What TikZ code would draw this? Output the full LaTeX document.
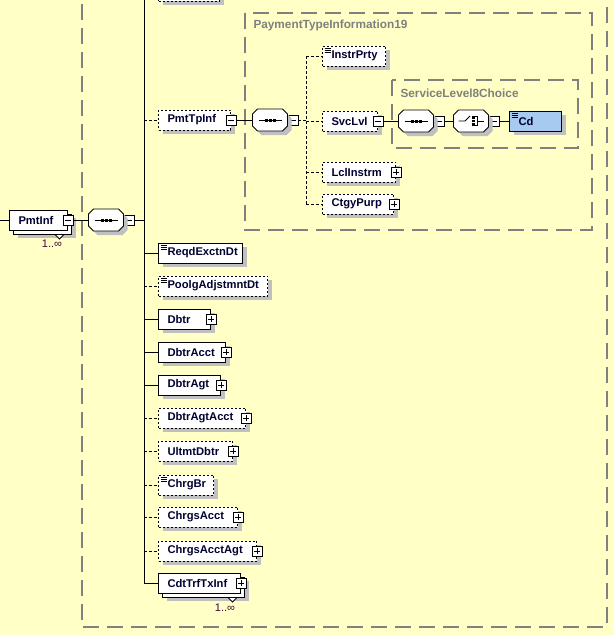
\documentclass[tikz,border=0pt]{standalone}
\usepackage{fontspec}
\setmainfont{Liberation Sans}
\usepackage{tikz}
\usetikzlibrary{positioning, shadows}
\definecolor{colorBack}{RGB}{255,255,198}
\definecolor{colorGroup}{RGB}{128,128,128}
\definecolor{colorShadow}{RGB}{192,192,192}
\definecolor{colorName}{RGB}{0,0,48}
\definecolor{colorCard}{RGB}{64,0,64}
\definecolor{colorSimple}{RGB}{166,202,240}
\newcommand{\elemfont}{\bfseries\fontsize{11.2}{13}\selectfont\hyphenpenalty=10000}
\newcommand{\grpfont}{\bfseries\fontsize{11.8}{13}\selectfont}
% octagon of a compositor, shifted by (#2,#3)
\newcommand{\octa}[3]{([shift={(#2+5pt,#3)}]#1.north west) -- ([shift={(#2-5pt,#3)}]#1.north east) -- ([shift={(#2,#3-5pt)}]#1.north east) -- ([shift={(#2,#3+5pt)}]#1.south east) -- ([shift={(#2-5pt,#3)}]#1.south east) -- ([shift={(#2+5pt,#3)}]#1.south west) -- ([shift={(#2,#3+5pt)}]#1.south west) -- ([shift={(#2,#3-5pt)}]#1.north west) -- cycle}
\tikzset{
  shad/.style={drop shadow={shadow xshift=4pt, shadow yshift=-4pt, draw=none, fill=colorShadow, opacity=1}},
  base/.style={draw, fill=white, line width=1pt, minimum height=20pt, inner xsep=9pt, inner ysep=0pt, anchor=west, align=left, font=\elemfont, text=colorName},
  elem/.style={base, shad},
  opt/.style={elem, dash pattern=on 2pt off 2pt},
  multi/.style={base, drop shadow={shadow xshift=8pt, shadow yshift=-8pt, draw=none, fill=colorShadow, opacity=1}, general shadow={shadow xshift=4pt, shadow yshift=-4pt, draw=black, fill=white, line width=1pt}},
  simple/.style={path picture={\foreach \k in {2.5,4.5,6.5} \draw[solid, line width=0.7pt] ([shift={(2pt,-\k pt)}]path picture bounding box.north west) -- ++(6pt,0pt);}},
  sgn/.style={draw, solid, fill=white, line width=0.8pt, minimum size=10pt, inner sep=0pt},
  minus/.style={sgn, path picture={\draw[line width=0.8pt] ([xshift=2pt]path picture bounding box.west) -- ([xshift=-2pt]path picture bounding box.east);}},
  plus/.style={sgn, path picture={\draw[line width=0.8pt] ([xshift=2pt]path picture bounding box.west) -- ([xshift=-2pt]path picture bounding box.east) ([yshift=2pt]path picture bounding box.south) -- ([yshift=-2pt]path picture bounding box.north);}},
  comp/.style={minimum width=34pt, minimum height=21pt, inner sep=0pt},
  optline/.style={dash pattern=on 3pt off 2pt},
  grpline/.style={colorGroup, line width=1.2pt, dash pattern=on 16pt off 8pt},
  grplabel/.style={anchor=west, inner sep=0pt, text=colorGroup, font=\grpfont},
  card/.style={inner sep=0pt, text=colorCard, font=\fontsize{11}{12}\selectfont},
}
\begin{document}
\begin{tikzpicture}[x=1pt, y=-1pt, line width=1pt]
\useasboundingbox (0,0) rectangle (614,635);
\clip (0,0) rectangle (614,635);
\fill[colorBack] (0,0) rectangle (614,635);
% groups
\draw[grpline] (82,-20) rectangle (607,627);
\draw[grpline] (245,13) rectangle (592,230);
\node[grplabel] (ptiLbl) at (253,25) {PaymentTypeInformation19};
\draw[grpline] (392,80) rectangle (578,148);
\node[grplabel] (svcLbl) at (400,93) {ServiceLevel8Choice};
% root element
\coordinate (root) at (0,220);
\node[multi, text width=40pt] (pmtinf) at (9,220) {PmtInf};
\node[minus] (pmtinfS) at (pmtinf.east) {};
\node[comp] (seqA) at (106,220) {};
\node[minus, anchor=west] (seqAS) at (seqA.east) {};
\coordinate (trunk) at (144,-20);
% PmtTpInf branch
\node[opt, text width=43pt] (ctrl) at (158,-9) {};
\node[opt, text width=54pt] (pmttp) at (158,120) {PmtTpInf};
\node[minus] (pmttpS) at (pmttp.east) {};
\node[comp] (seqB) at (270,120) {};
\node[minus, anchor=west] (seqBS) at (seqB.east) {};
\coordinate (fork) at (306,0);
\node[opt, simple, text width=45pt] (instr) at (322,56) {InstrPrty};
\node[opt, text width=37pt] (svclvl) at (322,121) {SvcLvl};
\node[minus] (svclvlS) at (svclvl.east) {};
\node[comp] (seqC) at (416,121) {};
\node[minus, anchor=west] (seqCS) at (seqC.east) {};
\node[comp] (choC) at (471,121) {};
\node[minus, anchor=west] (choCS) at (choC.east) {};
\node[elem, simple, fill=colorSimple, text width=34pt] (cd) at (509,121) {Cd};
\node[opt, text width=55pt] (lcl) at (322,172) {LclInstrm};
\node[plus] (lclS) at (lcl.east) {};
\node[opt, text width=53pt] (ctgy) at (322,204) {CtgyPurp};
\node[plus] (ctgyS) at (ctgy.east) {};
% other children
\node[elem, simple, text width=66pt] (reqd) at (158,253) {ReqdExctnDt};
\node[opt, simple, text width=91pt] (poolg) at (158,286) {PoolgAdjstmntDt};
\node[elem, text width=34pt] (dbtr) at (158,319) {Dbtr};
\node[plus] (dbtrS) at (dbtr.east) {};
\node[elem, text width=49pt] (dbtracct) at (158,352) {DbtrAcct};
\node[plus] (dbtracctS) at (dbtracct.east) {};
\node[elem, text width=44pt] (dbtragt) at (158,385) {DbtrAgt};
\node[plus] (dbtragtS) at (dbtragt.east) {};
\node[opt, text width=69pt] (dbtragtacct) at (158,418) {DbtrAgtAcct};
\node[plus] (dbtragtacctS) at (dbtragtacct.east) {};
\node[opt, text width=56pt] (ultmt) at (158,451) {UltmtDbtr};
\node[plus] (ultmtS) at (ultmt.east) {};
\node[opt, simple, text width=37pt] (chrgbr) at (158,485) {ChrgBr};
\node[opt, text width=61pt] (chrgsacct) at (158,517) {ChrgsAcct};
\node[plus] (chrgsacctS) at (chrgsacct.east) {};
\node[opt, text width=80pt] (chrgsagt) at (158,551) {ChrgsAcctAgt};
\node[plus] (chrgsagtS) at (chrgsagt.east) {};
\node[multi, text width=64pt] (cdt) at (158,583) {CdtTrfTxInf};
\node[plus] (cdtS) at (cdt.east) {};
% compositors
\foreach \c in {seqA,seqB,seqC,choC}{
  \fill[colorShadow] \octa{\c}{4pt}{-4pt};
  \draw[fill=white, line width=0.8pt] \octa{\c}{0pt}{0pt};
}
\foreach \c in {seqA,seqB,seqC}{
  \draw ([xshift=6pt]\c.west) -- ([xshift=-6pt]\c.east);
  \foreach \d in {-4,0,4} \fill ([xshift=\d pt]\c.center) +(-1.5pt,-1.5pt) rectangle +(1.5pt,1.5pt);
}
\draw[line width=0.8pt] ([xshift=5pt]choC.west) -- ([xshift=-6pt]choC.center) -- ++(5pt,5pt);
\foreach \d in {-3.5,0,3.5} \fill ([shift={(2.5pt,\d pt)}]choC.center) +(-1.1pt,-1.1pt) rectangle +(1.1pt,1.1pt);
\draw[line width=0.8pt] ([shift={(4pt,4.5pt)}]choC.center) -- ++(2pt,0pt) -- ++(0pt,-9pt) -- ++(-2pt,0pt);
\draw[line width=0.8pt] ([xshift=6pt]choC.center) -- ([xshift=-5pt]choC.east);
% occurrence marks
\draw[fill=white, line width=0.8pt] ([shift={(-13pt,-4pt)}]pmtinf.south east) -- ++(4.5pt,-4.5pt) -- ++(4.5pt,4.5pt) -- cycle;
\node[card] (pmtinfN) at ([shift={(-16pt,-13pt)}]pmtinf.south east) {1..∞};
\draw[fill=white, line width=0.8pt] ([shift={(-13pt,-4pt)}]cdt.south east) -- ++(4.5pt,-4.5pt) -- ++(4.5pt,4.5pt) -- cycle;
\node[card] (cdtN) at ([shift={(-16pt,-14pt)}]cdt.south east) {1..∞};
% connectors
\draw (root) -- (pmtinf);
\draw (pmtinfS) -- (seqA);
\draw (seqAS) -- (seqAS -| trunk);
\draw (trunk) |- (cdt);
\draw[optline] (ctrl.west -| trunk) -- (ctrl);
\draw[optline] (pmttp.west -| trunk) -- (pmttp);
\draw (pmttpS) -- (seqB);
\draw[optline] (seqBS) -- (seqBS -| fork);
\draw[optline] (instr.west -| fork) -- (ctgy.west -| fork);
\draw[optline] (instr.west -| fork) -- (instr);
\draw[optline] (svclvl.west -| fork) -- (svclvl);
\draw[optline] (lcl.west -| fork) -- (lcl);
\draw[optline] (ctgy.west -| fork) -- (ctgy);
\draw (svclvlS) -- (seqC);
\draw (seqCS) -- (choC);
\draw (choCS) -- (cd);
\draw (reqd.west -| trunk) -- (reqd);
\draw[optline] (poolg.west -| trunk) -- (poolg);
\draw (dbtr.west -| trunk) -- (dbtr);
\draw (dbtracct.west -| trunk) -- (dbtracct);
\draw (dbtragt.west -| trunk) -- (dbtragt);
\draw[optline] (dbtragtacct.west -| trunk) -- (dbtragtacct);
\draw[optline] (ultmt.west -| trunk) -- (ultmt);
\draw[optline] (chrgbr.west -| trunk) -- (chrgbr);
\draw[optline] (chrgsacct.west -| trunk) -- (chrgsacct);
\draw[optline] (chrgsagt.west -| trunk) -- (chrgsagt);
\end{tikzpicture}
\end{document}
